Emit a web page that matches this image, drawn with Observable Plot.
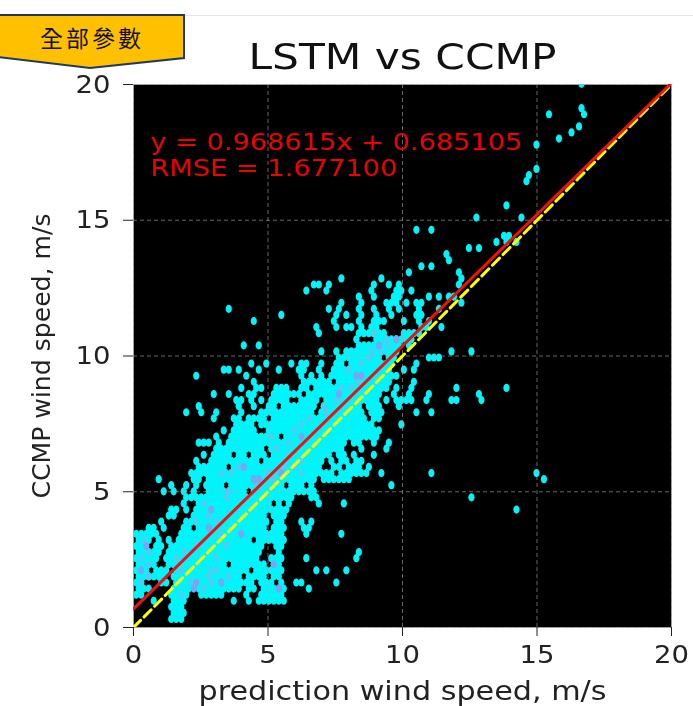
<!DOCTYPE html>
<html><head><meta charset="utf-8">
<script src="https://cdn.jsdelivr.net/npm/d3@7"></script>
<script src="https://cdn.jsdelivr.net/npm/@observablehq/plot@0.6"></script>
<style>
html,body{margin:0;padding:0;background:#fff;overflow:hidden}
#wrap{position:relative;width:693px;height:706px}
#chart svg{display:block;filter:blur(.45px)}
#rule{position:absolute;left:184px;right:0;top:15px;height:1px;background:#e6e6e6}
#badge{position:absolute;left:0;top:14px}
#badgeText{position:absolute;left:0;top:1px;width:184px;text-align:center;font:23px/46px "Noto Sans CJK TC",serif;color:#111;letter-spacing:3px;margin-top:13px}
</style></head><body>
<div id="wrap"><div id="chart"></div><div id="rule"></div>
<svg id="badge" width="186" height="56"><polygon points="-2,1 184,1 184,44 90,54 -2,43" fill="#FFC000" stroke="#1F3864" stroke-width="2"/></svg>
<div id="badgeText">全部參數</div></div>
<script>
const title = "LSTM vs CCMP";
const xLabel = "prediction wind speed, m/s";
const yLabel = "CCMP wind speed, m/s";
const tickValues = [0,5,10,15,20];
const fitText = "y = 0.968615x + 0.685105";
const rmseText = "RMSE = 1.677100";
const lineEnds = [0,20];
const fitValues = [0.685105,20.057405];
const refValues = [0,20];

// hexbin grid (wind speed units)
const binW = 0.186, binH = 0.224, x0Even = 0.1, x0Odd = 0.193, y0 = 0.313;
// occupied hexbin cells, row by row from the bottom; [a,b] = run of columns, n = one column
const hexRows = [
/*0*/[[7,9]],
[[7,9]],
[[7,9]],
[3,[7,9],19,22,24,[25,29]],
[[0,1],[7,10],[13,17],22,[25,29]],
/*5*/[[0,2],[7,10],[12,20],[22,23],[25,29],34],
[[0,1],[5,6],[8,23],[25,27],29,32,33,40],
[[0,5],[7,20],[22,25],[27,28]],
[[0,2],[4,6],[8,22],[24,29],36,38,42],
[[0,3],[6,17],[19,25],[27,28]],
/*10*/[[0,4],[6,24],[27,29],34,44],
[[0,4],[6,24],28,44],
[[0,2],[4,5],[7,25],[28,29]],
[[0,2],4,6,[8,22],[24,29]],
[[0,4],[9,29],34,41],
/*15*/[[2,3],5,[9,10],[12,25],[27,29],[33,34]],
[5,[10,26],[28,29],33,35],
[[6,7],[11,25],[27,29]],
[[7,8],10,[12,30],76],
[9,[12,26],28,30,36,41],
/*20*/[10,[11,31],[35,36],67],
[5,7,9,11,[14,21],[23,35]],
[7,10,12,[14,17],[19,29],[31,33],35,51],
[4,[11,12],[14,35],[37,42],81],
[[11,39],[41,46],49,59,80],
/*25*/[[12,17],[19,36],[39,40],[42,44],46],
[12,[15,24],[26,37],39,[41,42],[44,45]],
[13,[15,18],[20,21],[23,25],[27,38],[40,41],43,47],
[[16,25],[27,41],45,50],
[[12,14],16,[18,41],[43,44],47,50],
/*30*/[16,[19,28],[30,48]],
[17,[19,23],[26,48]],
[[20,23],[25,47],53],
[15,[19,20],[22,25],[27,45],[47,48]],
[10,13,16,21,[25,35],[37,45],[47,49],56,59],
/*35*/[12,20,23,[26,27],[29,35],[37,44],[46,48],52],
[20,21,23,25,[27,30],[33,36],[38,48],50,[52,55],58,[63,64],69],
[15,18,22,23,[27,32],[34,48],51,54,58,68],
[21,24,25,[28,30],[33,34],[36,50],52,55,64,74],
[23,[33,38],[40,50],55],
/*40*/[12,22,33,35,37,[39,52]],
[17,18,20,24,28,[32,33],36,[39,50],53,55],
[23,26,31,[33,34],37,[40,41],[43,51],56],
[[40,48],[50,51],[58,60]],
[37,40,[42,52],63,67],
/*45*/[21,24,[44,52],54],
[44,[48,55]],
[36,44,[45,49],[53,56]],
[36,40,[42,43],45,[47,48],57,58,61],
[23,39,44,[47,49],53,56,58],
/*50*/[29,40,42,45,48,51,[56,57]],
[18,38,40,44,47,50,52,56,60],
[41,45,[50,52],54,[56,57],65],
[44,47,[51,52],58,60,62,63],
[34,38,47,52,53,55],
/*55*/[[35,36],38,47,50,52,64],
[41,49,65],
[54,64],
[57,59],
[62],
/*60*/[62],
[66,68],
[72,74,76],
[73,74],
[56,59],
/*65*/[],
[68,77],
[],
[74],
[],[],[],
/*72*/[78],
[78],
[80],
[],[],[],
/*78*/[80],
[84],
[87],
[88],
[],
/*83*/[82,89],
[89],
[],[],[],
/*88*/[89]
];
// cells that hold more samples (the lavender-blue ones): [row, column]
const denseCells = [[8,1],[5,11],[6,12],[6,17],[15,14],[5,28],[9,27],[12,2],[25,21],[23,24],[23,23],[45,48],[46,52],[40,44],[40,45],[37,40],[24,29],[30,33],[14,21],[18,15]];
const midCells = [[7,14],[8,9],[10,8],[11,9],[9,2],[12,12],[16,12],[17,14],[19,13],[24,17],[24,19],[25,20],[22,24],[24,26],[25,31],[26,33],[8,15],[8,16],[7,18],[6,11],[4,9],[5,13],[29,30],[32,33],[34,38],[36,40],[39,44],[41,42],[43,46],[44,47],[47,47],[45,50],[6,15],[30,27],[10,1],[11,2],[7,2],[6,1],[13,1],[28,28],[27,30],[31,31],[33,34],[35,37],[38,41],[38,43],[42,45],[44,49],[46,50],[20,18],[21,18],[16,16],[14,17],[12,18],[10,16],[23,27],[24,33],[25,29]];

const cellX = (r,c) => (r%2 ? x0Odd : x0Even) + binW*c;
const cellY = r => y0 + binH*r;
const cells = hexRows.flatMap((row,r) => row.flatMap(run => {
  const [a,b] = Array.isArray(run) ? run : [run,run];
  return d3.range(a,b+1).map(c => ({x:cellX(r,c), y:cellY(r)}));
}));
const toCell = ([r,c]) => ({x:cellX(r,c), y:cellY(r)});
// the cells look like upright ovals in the reference; r is the half height
const cellShape = {draw(ctx,size){
  const ry=Math.sqrt(size/Math.PI), rx=.76*ry, k=.5523;
  ctx.moveTo(0,-ry);
  ctx.bezierCurveTo(k*rx,-ry,rx,-k*ry,rx,0);
  ctx.bezierCurveTo(rx,k*ry,k*rx,ry,0,ry);
  ctx.bezierCurveTo(-k*rx,ry,-rx,k*ry,-rx,0);
  ctx.bezierCurveTo(-rx,-k*ry,-k*rx,-ry,0,-ry);
  ctx.closePath();
}};
const ink = "#222";
const font = "DejaVu Sans";
const plot = Plot.plot({
  width:693, height:706,
  marginLeft:133, marginRight:22, marginTop:84, marginBottom:79,
  style:{background:"transparent", fontFamily:font},
  x:{domain:[0,20]}, y:{domain:[0,20]},
  marks:[
    Plot.frame({fill:"#000", stroke:"#999"}),
    Plot.dot(cells,{x:"x",y:"y",r:4.1,symbol:cellShape,fill:"#00f5fb",clip:"frame"}),
    Plot.dot(midCells.map(toCell),{x:"x",y:"y",r:4.1,symbol:cellShape,fill:"#45d2f5"}),
    Plot.dot(denseCells.map(toCell),{x:"x",y:"y",r:4.1,symbol:cellShape,fill:"#7aa4f4"}),
    Plot.gridX(tickValues,{stroke:"#aaa",strokeOpacity:.6,strokeDasharray:"4 3"}),
    Plot.gridY(tickValues,{stroke:"#aaa",strokeOpacity:.6,strokeDasharray:"4 3"}),
    Plot.line(lineEnds.map((x,i)=>({x,y:refValues[i]})),{x:"x",y:"y",stroke:"#ffff00",strokeWidth:3,strokeDasharray:"10 5",clip:"frame"}),
    Plot.line(lineEnds.map((x,i)=>({x,y:fitValues[i]})),{x:"x",y:"y",stroke:"#f01010",strokeWidth:3,clip:"frame"}),
    Plot.axisX(tickValues,{tickSize:9,tickPadding:9,fontSize:25,color:ink,label:null}),
    Plot.axisY(tickValues,{tickSize:10,tickPadding:13,fontSize:25,color:ink,label:null}),
    Plot.text([title],{frameAnchor:"top",dy:-27,fontSize:36,fill:"#111",lineAnchor:"middle"}),
    Plot.text([xLabel],{frameAnchor:"bottom",dy:64,fontSize:26,fill:ink,lineAnchor:"middle"}),
    Plot.text([yLabel],{frameAnchor:"left",dx:-91,rotate:-90,fontSize:24,fill:ink,textAnchor:"middle",lineAnchor:"middle"}),
    Plot.text([fitText],{frameAnchor:"top-left",dx:17,dy:58,fontSize:23,fill:"#f00000",textAnchor:"start",lineAnchor:"middle"}),
    Plot.text([rmseText],{frameAnchor:"top-left",dx:17,dy:84,fontSize:23,fill:"#f00000",textAnchor:"start",lineAnchor:"middle"})
  ]
});
document.getElementById("chart").append(plot);
// the reference's lettering is stretched sideways: widen each label to its measured width
const stretched = new Map([[title,308],[xLabel,408],[yLabel,285],[fitText,372],[rmseText,247]]);
plot.querySelectorAll("text").forEach(t => {
  const s = t.textContent.trim();
  const len = stretched.has(s) ? stretched.get(s) : tickValues.map(String).includes(s) ? t.getComputedTextLength()*1.1 : null;
  if (len) { t.setAttribute("textLength",len); t.setAttribute("lengthAdjust","spacingAndGlyphs"); }
});
</script></body></html>
